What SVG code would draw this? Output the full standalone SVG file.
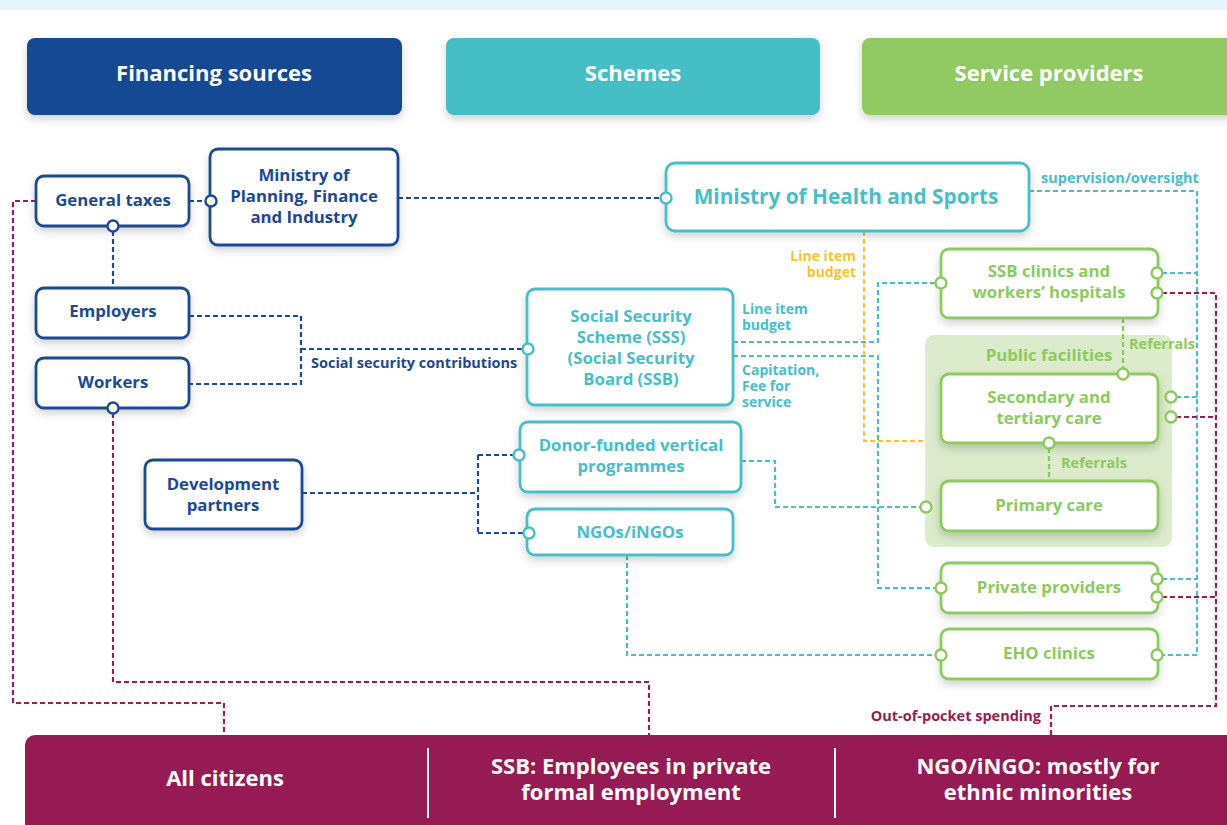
<svg xmlns="http://www.w3.org/2000/svg" width="1227" height="825" viewBox="0 0 1227 825">
<defs>
<filter id="sh" x="-20%" y="-20%" width="140%" height="150%">
<feDropShadow dx="0" dy="4" stdDeviation="4" flood-color="#000" flood-opacity="0.18"/>
</filter>
<style>
text{font-family:"Open Sans","Noto Sans","DejaVu Sans",sans-serif;font-weight:bold;}
.hd{fill:#fff;font-size:22px;text-anchor:middle;}
.n{fill:#fff;stroke-width:2.8;}
.fin{stroke:#1d4896;}
.sch{stroke:#45c0c6;}
.pro{stroke:#8dca5e;}
.tf{fill:#1d4896;font-size:16.8px;text-anchor:middle;}
.ts{fill:#45c0c6;font-size:16.8px;text-anchor:middle;}
.tp{fill:#8dca5e;font-size:16.8px;text-anchor:middle;}
.big{font-size:20.8px;}
.c{fill:none;stroke-width:2.2;stroke-dasharray:5 3;}
.cn{stroke:#1d4896;}
.ct{stroke:#45c0c6;}
.cm{stroke:#9b1b53;}
.cy{stroke:#f8c42a;}
.cg{stroke:#8dca5e;}
.p{fill:#fff;stroke-width:2.4;}
.lb{font-size:14.5px;}
.lb2{font-size:14px;}
.bt{fill:#fff;font-size:22px;text-anchor:middle;}
</style>
</defs>
<rect x="0" y="0" width="1227" height="10" fill="#e3f4fb"/>

<g id="headers">
<rect x="27" y="38" width="375" height="77" rx="8" fill="#134a94" filter="url(#sh)"/>
<text class="hd" x="214" y="81">Financing sources</text>
<rect x="446" y="38" width="374" height="77" rx="8" fill="#45bfc5" filter="url(#sh)"/>
<text class="hd" x="633" y="81">Schemes</text>
<rect x="862" y="38" width="380" height="77" rx="8" fill="#91ca63" filter="url(#sh)"/>
<text class="hd" x="1049" y="81">Service providers</text>
</g>

<g id="public-facilities">
<rect x="925" y="335" width="247" height="212" rx="9" fill="#dbebcb"/>
<text class="tp" x="1049" y="361">Public facilities</text>
</g>

<g id="connectors">
<path class="c cn" d="M189 201 H206"/>
<path class="c cn" d="M398 198 H661"/>
<path class="c cn" d="M113 231 V288"/>
<path class="c cn" d="M189 316 H301 V384 H189 M301 349 H523"/>
<path class="c cn" d="M302 493 H478 M478 455 V533 M478 455 H514 M478 533 H524"/>
<path class="c ct" d="M1029 191 H1197 V655 H1162 M1162 273 H1197 M1176 397 H1197 M1162 579 H1197"/>
<path class="c ct" d="M733 342 H878 V283 H936"/>
<path class="c ct" d="M733 356 H878 V588 H936"/>
<path class="c ct" d="M741 461 H775 V507 H921"/>
<path class="c ct" d="M627 555 V655 H936"/>
<path class="c cy" d="M864 231 V441 H925"/>
<path class="c cm" d="M1162 293 H1216 V706 H1051 V735 M1176 417 H1216 M1162 597 H1216"/>
<path class="c cm" d="M36 201 H13 V703 H224 V735"/>
<path class="c cm" d="M113 413 V682 H649 V735"/>
<path class="c cg" d="M1123 318 V369"/>
<path class="c cg" d="M1049 448 V481"/>
<text class="lb" x="311" y="368" fill="#1d4896">Social security contributions</text>
<text class="lb" x="1041" y="183" fill="#45c0c6">supervision/oversight</text>
<text class="lb2" fill="#f8c42a" text-anchor="end"><tspan x="856" y="261">Line item</tspan><tspan x="856" y="277">budget</tspan></text>
<text class="lb2" fill="#45c0c6"><tspan x="742" y="314">Line item</tspan><tspan x="742" y="330">budget</tspan></text>
<text class="lb2" fill="#45c0c6"><tspan x="742" y="375">Capitation,</tspan><tspan x="742" y="391">Fee for</tspan><tspan x="742" y="407">service</tspan></text>
<text class="lb" x="1129" y="349" fill="#8dca5e">Referrals</text>
<text class="lb" x="1061" y="468" fill="#8dca5e">Referrals</text>
<text class="lb" x="1041" y="721" fill="#9b1b53" text-anchor="end">Out-of-pocket spending</text>
</g>

<g id="general-taxes">
<rect class="n fin" x="36" y="176" width="153" height="50" rx="8" filter="url(#sh)"/>
<text class="tf" x="113" y="206">General taxes</text>
<circle class="p fin" cx="113" cy="226" r="5.5"/>
</g>
<g id="ministry-planning">
<rect class="n fin" x="210" y="149" width="188" height="96" rx="8" filter="url(#sh)"/>
<text class="tf"><tspan x="304" y="181">Ministry of</tspan><tspan x="304" y="202">Planning, Finance</tspan><tspan x="304" y="223">and Industry</tspan></text>
<circle class="p fin" cx="211" cy="201" r="5.5"/>
</g>
<g id="employers">
<rect class="n fin" x="36" y="288" width="153" height="50" rx="8" filter="url(#sh)"/>
<text class="tf" x="113" y="317">Employers</text>
</g>
<g id="workers">
<rect class="n fin" x="36" y="358" width="153" height="50" rx="8" filter="url(#sh)"/>
<text class="tf" x="113" y="388">Workers</text>
<circle class="p fin" cx="113" cy="408" r="5.5"/>
</g>
<g id="development-partners">
<rect class="n fin" x="145" y="460" width="157" height="69" rx="8" filter="url(#sh)"/>
<text class="tf"><tspan x="223" y="490">Development</tspan><tspan x="223" y="511">partners</tspan></text>
</g>

<g id="ministry-health">
<rect class="n sch" x="666" y="163" width="363" height="68" rx="9" filter="url(#sh)"/>
<text class="ts big" x="846" y="204">Ministry of Health and Sports</text>
<circle class="p sch" cx="666" cy="198" r="5.5"/>
</g>
<g id="sss">
<rect class="n sch" x="527" y="289" width="206" height="116" rx="8" filter="url(#sh)"/>
<text class="ts"><tspan x="631" y="322">Social Security</tspan><tspan x="631" y="343">Scheme (SSS)</tspan><tspan x="631" y="364">(Social Security</tspan><tspan x="631" y="385">Board  (SSB)</tspan></text>
<circle class="p sch" cx="528" cy="349" r="5.5"/>
</g>
<g id="donor-funded">
<rect class="n sch" x="520" y="422" width="221" height="70" rx="8" filter="url(#sh)"/>
<text class="ts"><tspan x="631" y="451">Donor-funded vertical</tspan><tspan x="631" y="472">programmes</tspan></text>
<circle class="p sch" cx="519" cy="455" r="5.5"/>
</g>
<g id="ngos">
<rect class="n sch" x="527" y="509" width="206" height="46" rx="8" filter="url(#sh)"/>
<text class="ts" x="630" y="538">NGOs/iNGOs</text>
<circle class="p sch" cx="529" cy="533" r="5.5"/>
</g>

<g id="ssb-clinics">
<rect class="n pro" x="941" y="249" width="217" height="69" rx="8" filter="url(#sh)"/>
<text class="tp"><tspan x="1049" y="277">SSB clinics and</tspan><tspan x="1049" y="298">workers’ hospitals</tspan></text>
<circle class="p pro" cx="941" cy="283" r="5.5"/>
<circle class="p pro" cx="1157" cy="273" r="5.5"/>
<circle class="p pro" cx="1157" cy="293" r="5.5"/>
</g>
<g id="secondary-tertiary">
<rect class="n pro" x="941" y="374" width="217" height="69" rx="8" filter="url(#sh)"/>
<text class="tp"><tspan x="1049" y="403">Secondary and</tspan><tspan x="1049" y="424">tertiary care</tspan></text>
<circle class="p pro" cx="1123" cy="374" r="5.5"/>
<circle class="p pro" cx="1049" cy="443" r="5.5"/>
<circle class="p pro" cx="1171" cy="397" r="5.5"/>
<circle class="p pro" cx="1171" cy="417" r="5.5"/>
</g>
<g id="primary-care">
<rect class="n pro" x="941" y="481" width="217" height="50" rx="8" filter="url(#sh)"/>
<text class="tp" x="1049" y="511">Primary care</text>
<circle class="p pro" cx="926" cy="507" r="5.5"/>
</g>
<g id="private-providers">
<rect class="n pro" x="941" y="563" width="217" height="50" rx="8" filter="url(#sh)"/>
<text class="tp" x="1049" y="593">Private providers</text>
<circle class="p pro" cx="941" cy="588" r="5.5"/>
<circle class="p pro" cx="1157" cy="579" r="5.5"/>
<circle class="p pro" cx="1157" cy="597" r="5.5"/>
</g>
<g id="eho-clinics">
<rect class="n pro" x="941" y="629" width="217" height="50" rx="8" filter="url(#sh)"/>
<text class="tp" x="1049" y="659">EHO clinics</text>
<circle class="p pro" cx="941" cy="655" r="5.5"/>
<circle class="p pro" cx="1157" cy="655" r="5.5"/>
</g>

<g id="population-band">
<rect x="25" y="735" width="1220" height="110" rx="10" fill="#961b54"/>
<line x1="428" y1="748" x2="428" y2="818" stroke="#fff" stroke-width="2"/>
<line x1="835" y1="748" x2="835" y2="818" stroke="#fff" stroke-width="2"/>
<text class="bt" x="225" y="786">All citizens</text>
<text class="bt"><tspan x="631" y="774">SSB: Employees in private</tspan><tspan x="631" y="800">formal employment</tspan></text>
<text class="bt"><tspan x="1038" y="774">NGO/iNGO: mostly for</tspan><tspan x="1038" y="800">ethnic minorities</tspan></text>
</g>
</svg>
